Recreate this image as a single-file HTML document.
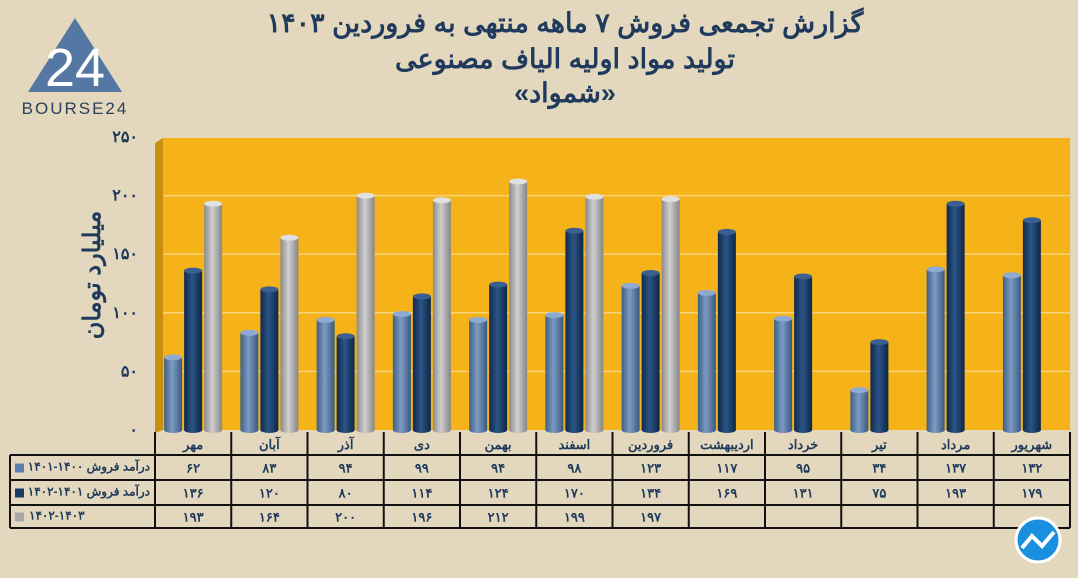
<!DOCTYPE html>
<html><head><meta charset="utf-8">
<style>
body{margin:0;width:1078px;height:578px;background:#e3d8bd;overflow:hidden;font-family:"Liberation Sans","Noto Sans CJK SC",sans-serif}
svg{display:block}
</style></head>
<body>
<svg id="chart" width="1078" height="578" viewBox="0 0 1078 578">
<defs>
<linearGradient id="gL" x1="0" x2="1"><stop offset="0" stop-color="#3e5f86"/><stop offset=".45" stop-color="#7d9cc4"/><stop offset="1" stop-color="#38587e"/></linearGradient>
<linearGradient id="gD" x1="0" x2="1"><stop offset="0" stop-color="#0f2a4c"/><stop offset=".45" stop-color="#2c5486"/><stop offset="1" stop-color="#0d2646"/></linearGradient>
<linearGradient id="gG" x1="0" x2="1"><stop offset="0" stop-color="#8a8a8a"/><stop offset=".45" stop-color="#d0d0d0"/><stop offset="1" stop-color="#858585"/></linearGradient>
</defs>
<g>
<polygon points="75,18 28,92 122,92" fill="#5477a3"/>
<text x="75" y="86" text-anchor="middle" font-size="54" fill="#fff" font-family="Liberation Sans">24</text>
<text x="75" y="114" text-anchor="middle" font-size="17" fill="#2a3f5c" letter-spacing="2">BOURSE24</text>
</g>
<g fill="#1f3a5c" font-size="27" font-weight="bold" text-anchor="middle" font-family="'Liberation Sans','Noto Sans CJK SC',sans-serif">
<text x="565" y="32" direction="rtl">گزارش تجمعی فروش ۷ ماهه منتهی به فروردین ۱۴۰۳</text>
<text x="565" y="68" direction="rtl">تولید مواد اولیه الیاف مصنوعی</text>
<text x="565" y="102" direction="rtl">«شمواد»</text>
</g>
<polygon points="155,143 163,138 163,430 155,433" fill="#c8900f"/>
<rect x="163" y="138" width="907" height="292" fill="#f6b319"/>
<g id="grid"></g>
<g id="yticks" font-size="16" font-weight="bold" fill="#1f3a5c" text-anchor="end"></g>
<text transform="translate(100,275) rotate(-90)" text-anchor="middle" font-size="24" font-weight="bold" fill="#1f3a5c" direction="rtl">میلیارد تومان</text>
<g id="bars"></g>
<g id="table" font-size="13" font-weight="bold" fill="#1f3a5c"></g>
<g>
<circle cx="1038" cy="540" r="22" fill="#1a8fe0" stroke="#fff" stroke-width="3"/>
<path d="M1022 548 L1032 536 L1042 546 L1054 532" stroke="#fff" stroke-width="4" fill="none"/>
</g>
</svg>
<script>
const categories=["مهر","آبان","آذر","دی","بهمن","اسفند","فروردین","اردیبهشت","خرداد","تیر","مرداد","شهریور"];
const s1=[62,83,94,99,94,98,123,117,95,34,137,132];
const s2=[136,120,80,114,124,170,134,169,131,75,193,179];
const s3=[193,164,200,196,212,199,197,null,null,null,null,null];
const seriesNames=["درآمد فروش ۱۴۰۰-۱۴۰۱","درآمد فروش ۱۴۰۱-۱۴۰۲","۱۴۰۲-۱۴۰۳"];
const yTicks=[0,50,100,150,200,250];
const NS="http://www.w3.org/2000/svg";
const fa=n=>String(n).replace(/\d/g,d=>"۰۱۲۳۴۵۶۷۸۹"[d]);
const y0=430,yTop=137,yMax=250;
const Y=v=>y0-(v/yMax)*(y0-yTop);
const colL=155,colR=1070,colW=(colR-colL)/categories.length;
const X=i=>colL+colW*(i+0.5);
function mk(t,a,p){const e=document.createElementNS(NS,t);for(const k in a)e.setAttribute(k,a[k]);p.appendChild(e);return e;}
const grid=document.getElementById('grid'),yt=document.getElementById('yticks');
yTicks.forEach(v=>{
 if(v>0&&v<250){const l=mk('line',{x1:163,x2:1070,y1:Y(v),y2:Y(v),stroke:'#f9d37a','stroke-width':1.5},grid);
 
 }
 const t=mk('text',{x:138,y:Y(v)+5},yt);t.textContent=fa(v);
 
 
});
const bars=document.getElementById('bars');
const series=[s1,s2,s3],grads=['url(#gL)','url(#gD)','url(#gG)'],tops=['#8eaad0','#3a5f90','#e0e0e0'];
const bw=20;
categories.forEach((c,i)=>{
 series.forEach((s,j)=>{
  const v=s[i];if(v==null)return;
  const cx=X(i)+(j-1)*bw;
  const r=mk('rect',{x:cx-bw/2+1,y:Y(v),width:bw-2,height:y0-Y(v),fill:grads[j]},bars);
  
  
  const e=mk('ellipse',{cx:cx,cy:Y(v),rx:bw/2-1,ry:3,fill:tops[j]},bars);
  
  
  const b=mk('ellipse',{cx:cx,cy:y0,rx:bw/2-1,ry:3,fill:grads[j]},bars);
  
  
 });
});
const tb=document.getElementById('table');
const rowY=[432,455,480,505,528];
const L=(x1,y1,x2,y2)=>{const l=mk('line',{x1,y1,x2,y2,stroke:'#111','stroke-width':2},tb);
 
 };
for(let k=0;k<=categories.length;k++)L(colL+colW*k,rowY[0],colL+colW*k,rowY[4]);
L(10,rowY[1],10,rowY[4]);
for(let r=1;r<5;r++)L(10,rowY[r],colR,rowY[r]);
categories.forEach((c,i)=>{const t=mk('text',{x:X(i),y:449,'text-anchor':'middle',direction:'rtl'},tb);t.textContent=c;
 
 });
const sw=['#5b7fad','#173a67','#a8a8a8'];
series.forEach((s,j)=>{
 const cy=(rowY[j+1]+rowY[j+2])/2;
 const q=mk('rect',{x:15,y:cy-4,width:9,height:9,fill:sw[j]},tb);
 
 
 const t=j<2?mk('text',{x:150,y:cy+3,'text-anchor':'start','font-size':12,direction:'rtl'},tb)
            :mk('text',{x:29,y:cy+3,'text-anchor':'start','font-size':12},tb);
 t.textContent=seriesNames[j];
 
 
 s.forEach((v,i)=>{if(v==null)return;const d=mk('text',{x:X(i),y:cy+5,'text-anchor':'middle'},tb);d.textContent=fa(v);
  
  });
});
</script>
</body></html>
